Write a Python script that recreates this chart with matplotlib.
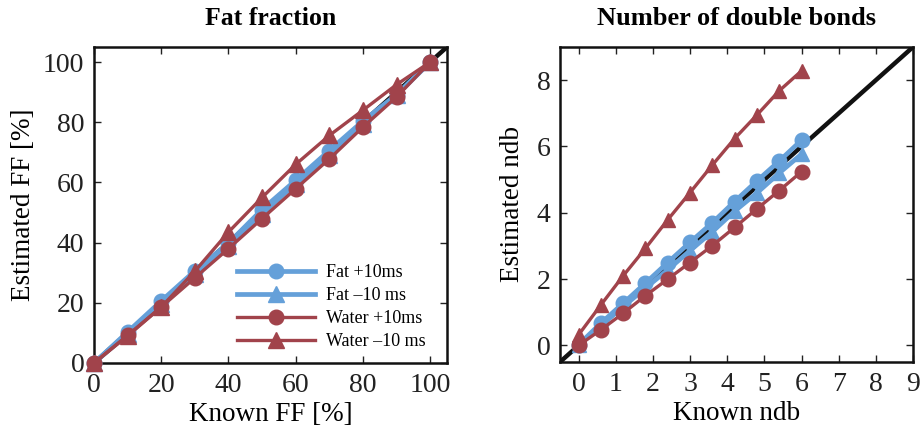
import matplotlib
matplotlib.use("Agg")
import matplotlib.pyplot as plt

plt.rcParams['font.family'] = ['Liberation Serif', 'DejaVu Serif']

# ---- data: left panel (fat fraction, %) ----
ff_known = [0, 10, 20, 30, 40, 50, 60, 70, 80, 90, 100]
ff_fat_p10 = [0, 10.3, 20.6, 30.6, 39.8, 51.0, 60.7, 70.6, 80.4, 89.2, 100]
ff_fat_m10 = [0, 9.7, 19.6, 29.6, 39.0, 49.6, 59.6, 69.2, 79.3, 89.0, 100]
ff_wat_p10 = [0, 9.2, 18.6, 28.3, 38.0, 48.0, 57.9, 67.8, 78.4, 88.4, 100]
ff_wat_m10 = [0, 9.0, 18.6, 30.5, 43.5, 55.0, 66.0, 75.6, 84.0, 92.5, 100]

# ---- data: right panel (number of double bonds) ----
ndb_known = [0, 0.6, 1.2, 1.8, 2.4, 3.0, 3.6, 4.2, 4.8, 5.4, 6.0]
ndb_fat_p10 = [0.02, 0.67, 1.27, 1.88, 2.50, 3.11, 3.70, 4.34, 4.96, 5.56, 6.19]
ndb_fat_m10 = [0.0, 0.60, 1.17, 1.73, 2.28, 2.86, 3.43, 4.05, 4.60, 5.20, 5.77]
ndb_wat_p10 = [0.0, 0.47, 0.97, 1.50, 2.00, 2.50, 3.01, 3.56, 4.12, 4.67, 5.24]
ndb_wat_m10 = [0.32, 1.22, 2.10, 2.93, 3.79, 4.61, 5.44, 6.24, 6.95, 7.68, 8.28]

labels = ['Fat +10ms', 'Fat \u201310 ms', 'Water +10ms', 'Water \u201310 ms']

blue = '#65a0d9'
red = '#a1434b'

fig = plt.figure(figsize=(9.24, 4.33), dpi=100)
W, H = 924, 433
ax1 = fig.add_axes([94 / W, (H - 363) / H, 353 / W, 316 / H])
ax2 = fig.add_axes([560 / W, (H - 362) / H, 353 / W, 315 / H])


def style(ax):
    for s in ax.spines.values():
        s.set_linewidth(1.8)
        s.set_color('#111111')
    ax.tick_params(direction='in', length=5, width=1, top=True, right=True,
                   labelsize=20, pad=7, colors='#222222')


def draw(ax, x, series, lim, ms_c, ms_t):
    ax.plot(lim, lim, color='#111111', lw=3.2, zorder=1, solid_capstyle='butt')
    specs = [(blue, 'o', 3.4, ms_c), (blue, '^', 3.4, ms_t),
             (red, 'o', 2.4, ms_c), (red, '^', 2.4, ms_t)]
    for y, (c, m, lw, ms), lab in zip(series, specs, labels):
        ax.plot(x, y, color=c, marker=m, lw=lw, ms=ms, mec=c, mfc=c,
                label=lab, zorder=3, clip_on=False)


draw(ax1, ff_known, [ff_fat_p10, ff_fat_m10, ff_wat_p10, ff_wat_m10],
     [0, 105], 10.5, 11.5)
ax1.set_xlim(0, 105)
ax1.set_ylim(0, 105)
ax1.set_xticks([0, 20, 40, 60, 80, 100])
ax1.set_yticks([0, 20, 40, 60, 80, 100])
style(ax1)
ax1.set_title('Fat fraction', fontsize=18.5, fontweight='bold', pad=16)
ax1.set_xlabel('Known FF [%]', fontsize=19.5, labelpad=3)
ax1.set_ylabel('Estimated FF [%]', fontsize=19.5, labelpad=5)
leg = ax1.legend(loc='lower right', bbox_to_anchor=(0.975, 0.0), frameon=False,
                 fontsize=13, handlelength=4.3, handletextpad=0.6,
                 labelspacing=0.33, borderaxespad=0.3, markerscale=1.0)

draw(ax2, ndb_known, [ndb_fat_p10, ndb_fat_m10, ndb_wat_p10, ndb_wat_m10],
     [-0.5, 9], 10.5, 10.5)
ax2.set_xlim(-0.5, 9)
ax2.set_ylim(-0.5, 9)
ax2.set_xticks(range(0, 10))
ax2.set_yticks([0, 2, 4, 6, 8])
style(ax2)
ax2.set_title('Number of double bonds', fontsize=19, fontweight='bold', pad=16)
ax2.set_xlabel('Known ndb', fontsize=19.5, labelpad=3)
ax2.set_ylabel('Estimated ndb', fontsize=19.5, labelpad=8)

fig.savefig('out.png', dpi=100)
